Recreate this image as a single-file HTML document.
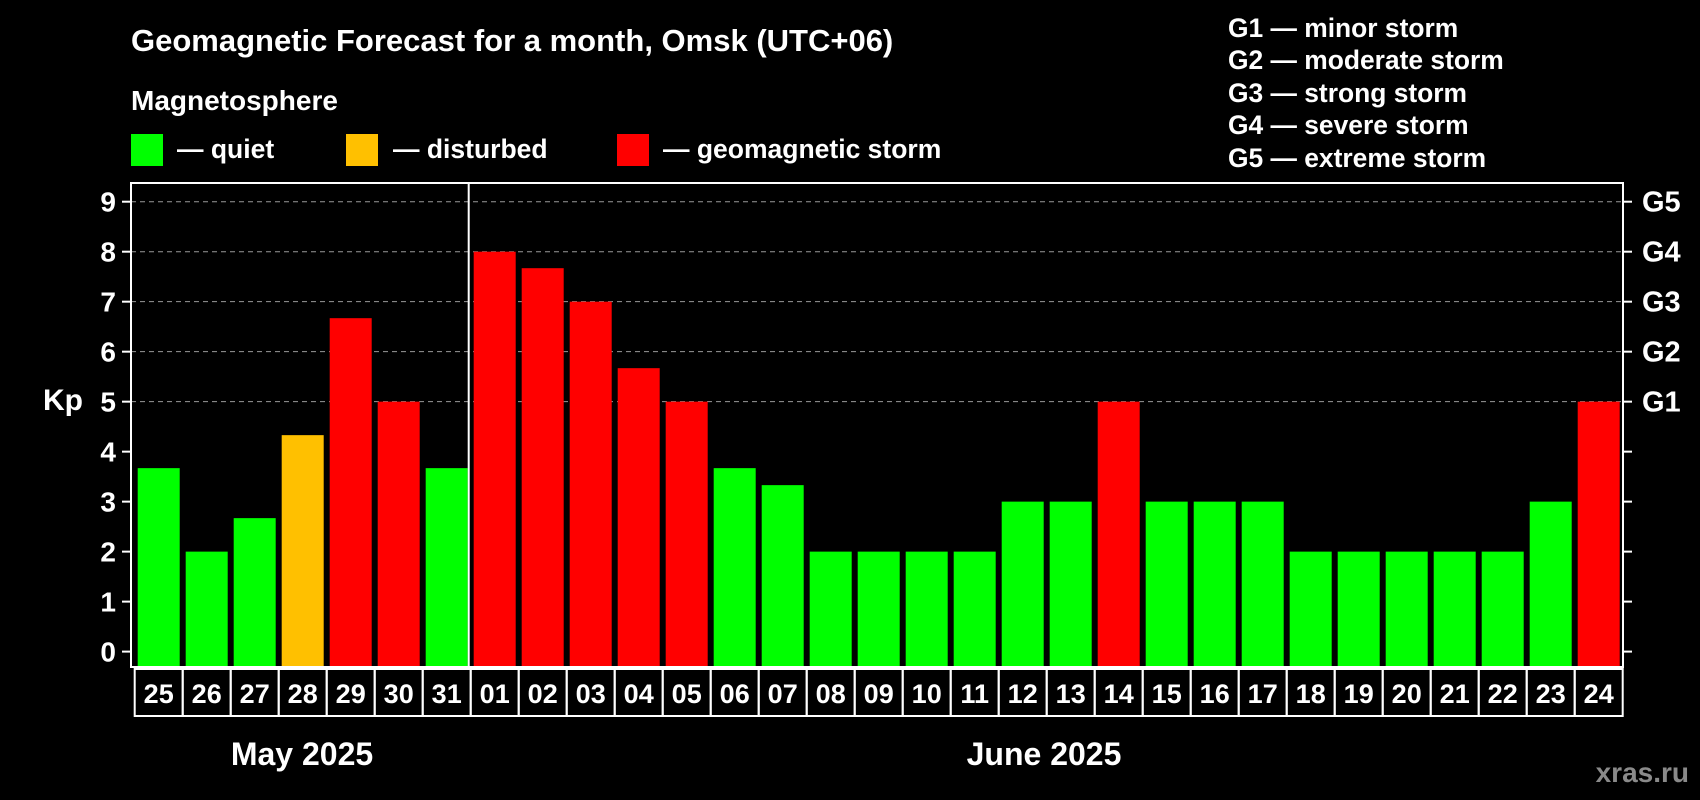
<!DOCTYPE html>
<html><head><meta charset="utf-8"><style>
html,body{margin:0;padding:0;background:#000;}
svg{display:block;font-family:"Liberation Sans",Arial,sans-serif;font-weight:bold;}
</style></head><body>
<svg id="chart" width="1700" height="800" viewBox="0 0 1700 800" xmlns="http://www.w3.org/2000/svg">
<rect width="1700" height="800" fill="#000"/>
<text x="131" y="51" fill="#fff" font-size="31">Geomagnetic Forecast for a month, Omsk (UTC+06)</text>
<text x="131" y="110" fill="#fff" font-size="28">Magnetosphere</text>
<g><rect x="131" y="134" width="32" height="32" fill="#00ff00"/><text x="177" y="158" fill="#fff" font-size="26.5">— quiet</text></g>
<g><rect x="346" y="134" width="32" height="32" fill="#ffc000"/><text x="393" y="158" fill="#fff" font-size="26.5">— disturbed</text></g>
<g><rect x="617" y="134" width="32" height="32" fill="#ff0000"/><text x="663" y="158" fill="#fff" font-size="26.5">— geomagnetic storm</text></g>
<g fill="#fff" font-size="26.4">
<text x="1228" y="37">G1 — minor storm</text>
<text x="1228" y="69">G2 — moderate storm</text>
<text x="1228" y="102">G3 — strong storm</text>
<text x="1228" y="134">G4 — severe storm</text>
<text x="1228" y="167">G5 — extreme storm</text>
</g>
<text x="43" y="410" fill="#fff" font-size="30">Kp</text>
<g id="plot"></g>
<text x="302" y="765" fill="#fff" font-size="32" text-anchor="middle">May 2025</text>
<text x="1044" y="765" fill="#fff" font-size="32" text-anchor="middle">June 2025</text>
<text x="1689" y="782" fill="#8a8a8a" font-size="28" text-anchor="end">xras.ru</text>
</svg>
<script>
const days = ["25","26","27","28","29","30","31","01","02","03","04","05","06","07","08","09","10","11","12","13","14","15","16","17","18","19","20","21","22","23","24"];
const kpValues = [3.67,2,2.67,4.33,6.67,5,3.67,8,7.67,7,5.67,5,3.67,3.33,2,2,2,2,3,3,5,3,3,3,2,2,2,2,2,3,5];
const yTicks = [0,1,2,3,4,5,6,7,8,9];
const gridTicks = [5,6,7,8,9];
const gLabels = ["G1","G2","G3","G4","G5"];
const monthBreakIndex = 7;

const NS = "http://www.w3.org/2000/svg";
const g = document.getElementById("plot");
const plotL = 131, plotR = 1623, plotT = 183, plotB = 667;
const slot0 = 134.7, slotW = 48, barW = 42;
const y0 = 651.6, unit = (651.6 - 201.7) / 9;
function yScale(v){ return y0 - v * unit; }
function xCenter(i){ return slot0 + slotW * i + slotW / 2; }
function mk(tag, attrs){ const e = document.createElementNS(NS, tag); for (const k in attrs) e.setAttribute(k, attrs[k]); g.appendChild(e); return e; }
function color(v){ return v >= 5 ? "#ff0000" : (v >= 4 ? "#ffc000" : "#00ff00"); }

gridTicks.forEach(t => {
  const l = mk("line", {x1: plotL, x2: plotR, y1: yScale(t), y2: yScale(t), stroke: "#999", "stroke-width": 1, "stroke-dasharray": "5,4"});
  
  
});
kpValues.forEach((v, i) => {
  const r = mk("rect", {x: xCenter(i) - barW / 2, y: yScale(v), width: barW, height: plotB - yScale(v), fill: color(v)});
  
  
});
const frame = mk("rect", {x: plotL, y: plotT, width: plotR - plotL, height: plotB - plotT, fill: "none", stroke: "#fff", "stroke-width": 2});


const divX = slot0 + slotW * monthBreakIndex - 2;
const div = mk("line", {x1: divX, x2: divX, y1: plotT, y2: plotB, stroke: "#fff", "stroke-width": 2});


yTicks.forEach(t => {
  const y = yScale(t);
  const tl = mk("line", {x1: plotL - 9, x2: plotL, y1: y, y2: y, stroke: "#fff", "stroke-width": 2});
  
  
  const tr = mk("line", {x1: plotR, x2: plotR + 9, y1: y, y2: y, stroke: "#fff", "stroke-width": 2});
  
  
  const tx = mk("text", {x: 116, y: y + 10, fill: "#fff", "font-size": 28, "text-anchor": "end"});
  tx.textContent = t;
  
  
});
gLabels.forEach((lab, i) => {
  const tx = mk("text", {x: 1642, y: yScale(5 + i) + 10, fill: "#fff", "font-size": 29});
  tx.textContent = lab;
  
  
});
days.forEach((d, i) => {
  const bx = mk("rect", {x: slot0 + slotW * i, y: 669, width: slotW, height: 47, fill: "none", stroke: "#fff", "stroke-width": 2});
  
  
  const tx = mk("text", {x: xCenter(i), y: 703, fill: "#fff", "font-size": 27, "text-anchor": "middle"});
  tx.textContent = d;
  
  
});
</script>
</body></html>
